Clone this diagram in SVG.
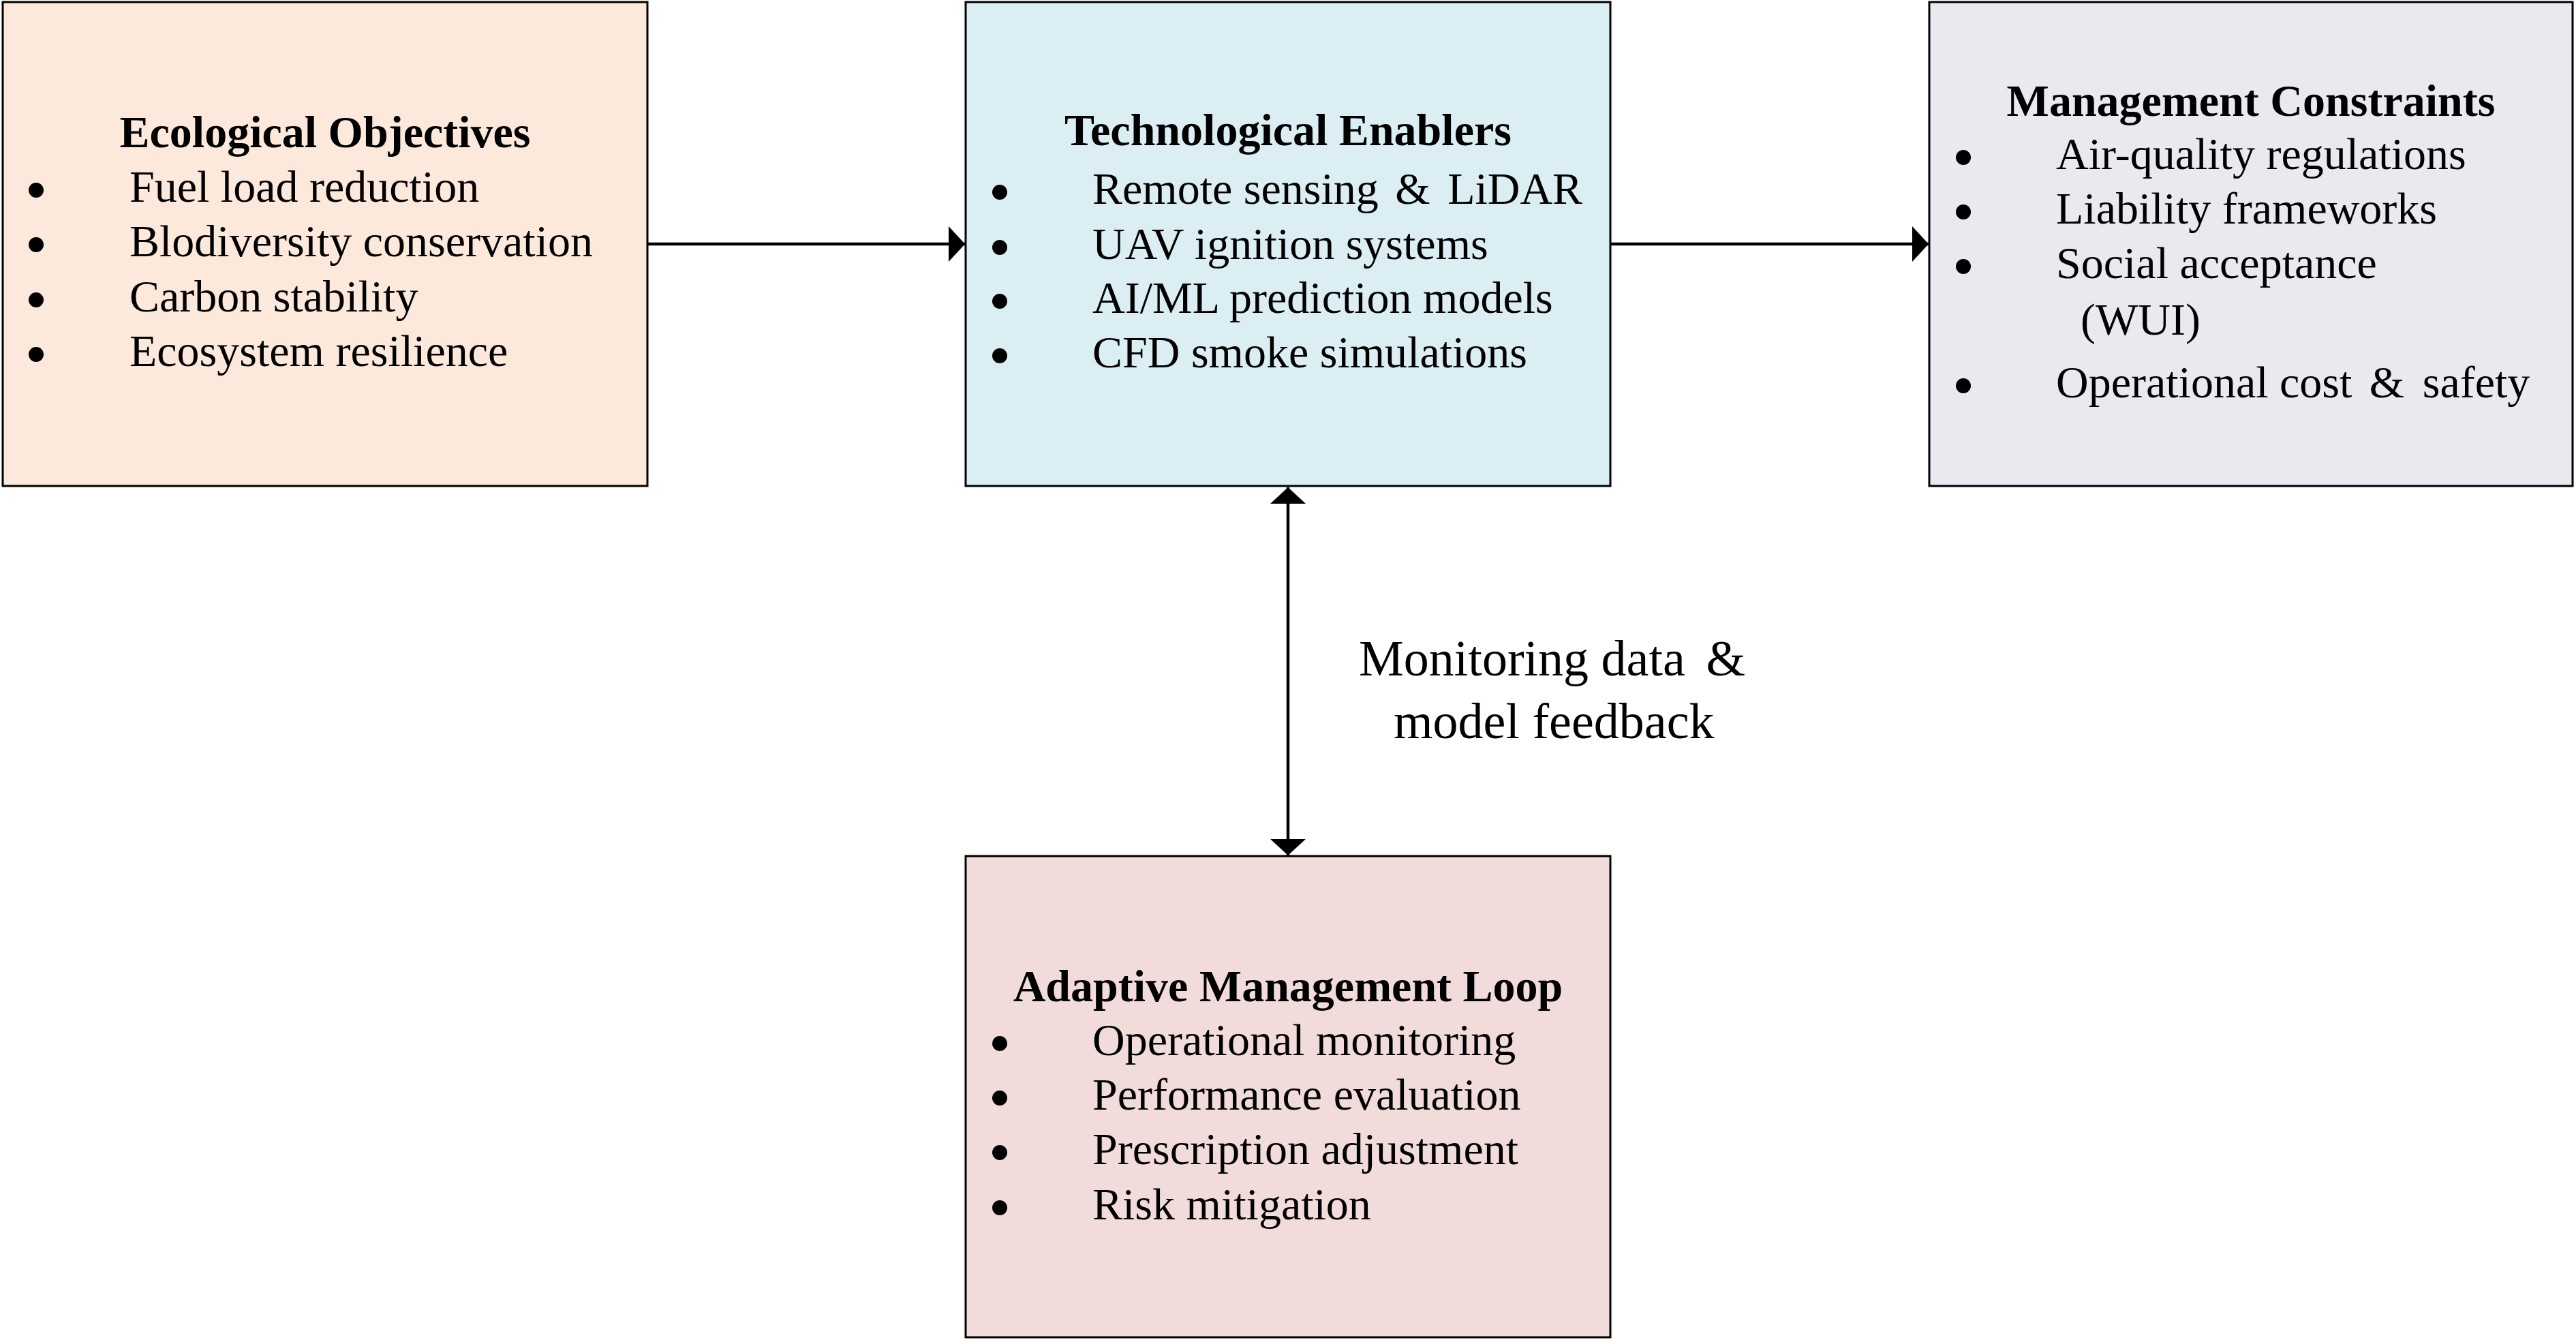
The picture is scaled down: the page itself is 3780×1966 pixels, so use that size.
<svg xmlns="http://www.w3.org/2000/svg" width="3780" height="1966" viewBox="0 0 3780 1966">
<style>
  .box { stroke: #000; stroke-width: 3; }
  .t { font-family: "Liberation Serif", "Times New Roman", serif; font-size: 66px; fill: #000; }
  .h { font-family: "Liberation Serif", "Times New Roman", serif; font-size: 66px; font-weight: bold; fill: #000; text-anchor: middle; }
  .lbl { font-family: "Liberation Serif", "Times New Roman", serif; font-size: 74px; fill: #000; }
  .conn { stroke: #000; stroke-width: 4.5; fill: none; }
</style>
<defs>
  <marker id="ah" viewBox="0 0 24 52" refX="24" refY="26" markerWidth="24" markerHeight="52" markerUnits="userSpaceOnUse" orient="auto-start-reverse">
    <path d="M0,0 L24,26 L0,52 Z" fill="#000"/>
  </marker>
</defs>
<rect width="3780" height="1966" fill="#fff"/>

<g id="connectors">
  <line class="conn" x1="950" y1="358" x2="1416" y2="358" marker-end="url(#ah)"/>
  <line class="conn" x1="2363" y1="358" x2="2830" y2="358" marker-end="url(#ah)"/>
  <line class="conn" x1="1890" y1="715" x2="1890" y2="1255" marker-start="url(#ah)" marker-end="url(#ah)"/>
  <text class="lbl" x="1994" y="991">Monitoring data <tspan dx="12">&amp;</tspan></text>
  <text class="lbl" x="2045" y="1083">model feedback</text>
</g>

<g id="ecological">
  <rect class="box" x="4" y="3" width="946" height="710" fill="#FCE9DC"/>
  <text class="h" x="477" y="216">Ecological Objectives</text>
  <circle cx="53" cy="279" r="11"/>
  <circle cx="53" cy="359" r="11"/>
  <circle cx="53" cy="440" r="11"/>
  <circle cx="53" cy="520" r="11"/>
  <text class="t" x="190" y="296">Fuel load reduction</text>
  <text class="t" x="190" y="376">Blodiversity conservation</text>
  <text class="t" x="190" y="457">Carbon stability</text>
  <text class="t" x="190" y="537">Ecosystem resilience</text>
</g>

<g id="technological">
  <rect class="box" x="1417" y="3" width="946" height="710" fill="#DBEEF4"/>
  <text class="h" x="1890" y="213">Technological Enablers</text>
  <circle cx="1467" cy="282" r="11"/>
  <circle cx="1467" cy="363" r="11"/>
  <circle cx="1467" cy="442" r="11"/>
  <circle cx="1467" cy="522" r="11"/>
  <text class="t" x="1603" y="299">Remote sensing <tspan dx="8">&amp;</tspan> <tspan dx="9">LiDAR</tspan></text>
  <text class="t" x="1603" y="380">UAV ignition systems</text>
  <text class="t" x="1603" y="459">AI/ML prediction models</text>
  <text class="t" x="1603" y="539">CFD smoke simulations</text>
</g>

<g id="management">
  <rect class="box" x="2831" y="3" width="944" height="710" fill="#EBE8F0"/>
  <text class="h" x="3303" y="170">Management Constraints</text>
  <circle cx="2881" cy="231" r="11"/>
  <circle cx="2881" cy="311" r="11"/>
  <circle cx="2881" cy="391" r="11"/>
  <circle cx="2881" cy="566" r="11"/>
  <text class="t" x="3017" y="248">Air-quality regulations</text>
  <text class="t" x="3017" y="328">Liability frameworks</text>
  <text class="t" x="3017" y="408">Social acceptance</text>
  <text class="t" x="3053" y="491">(WUI)</text>
  <text class="t" x="3017" y="583">Operational cost <tspan dx="9">&amp;</tspan> <tspan dx="10">safety</tspan></text>
</g>

<g id="adaptive">
  <rect class="box" x="1417" y="1256" width="946" height="706" fill="#F2DCDB"/>
  <text class="h" x="1890" y="1469">Adaptive Management Loop</text>
  <circle cx="1467" cy="1531" r="11"/>
  <circle cx="1467" cy="1611" r="11"/>
  <circle cx="1467" cy="1691" r="11"/>
  <circle cx="1467" cy="1772" r="11"/>
  <text class="t" x="1603" y="1548">Operational monitoring</text>
  <text class="t" x="1603" y="1628">Performance evaluation</text>
  <text class="t" x="1603" y="1708">Prescription adjustment</text>
  <text class="t" x="1603" y="1789">Risk mitigation</text>
</g>
</svg>
